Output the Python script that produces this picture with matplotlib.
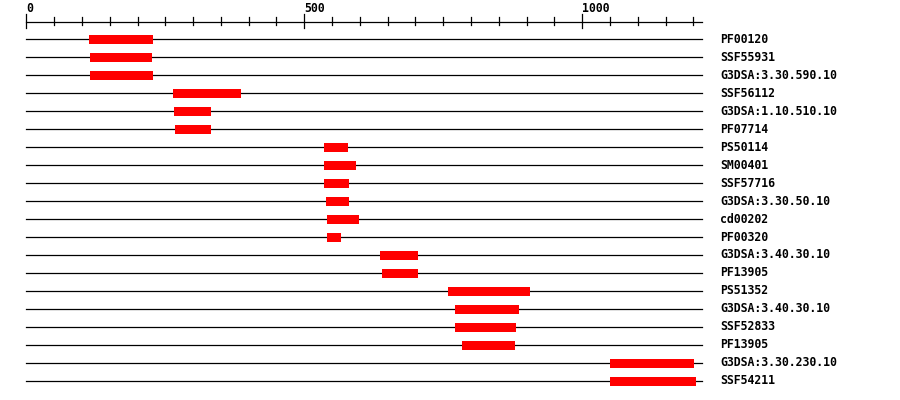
import matplotlib
matplotlib.use("Agg")
import matplotlib.pyplot as plt
import numpy as np

seq_len = 1215

labels = ["PF00120", "SSF55931", "G3DSA:3.30.590.10", "SSF56112",
          "G3DSA:1.10.510.10", "PF07714", "PS50114", "SM00401", "SSF57716",
          "G3DSA:3.30.50.10", "cd00202", "PF00320", "G3DSA:3.40.30.10",
          "PF13905", "PS51352", "G3DSA:3.40.30.10", "SSF52833", "PF13905",
          "G3DSA:3.30.230.10", "SSF54211"]
starts = [113, 115, 115, 264, 266, 268, 535, 535, 535, 539, 541, 541,
          636, 640, 759, 771, 771, 784, 1050, 1050]
ends = [227, 226, 227, 386, 332, 332, 579, 593, 580, 580, 598, 566,
        705, 705, 906, 886, 881, 879, 1201, 1204]

major_ticks = [0, 500, 1000]
minor_ticks = list(range(0, 1201, 50))

# pixel mapping: x_px = 26.3 + 0.556 * pos, y_px = 39 + 18 * row
sx = 0.556
x0 = 26.3
fig = plt.figure(figsize=(9, 4), dpi=100)
ax = fig.add_axes([0, 0, 1, 1])
ax.set_xlim(-x0 / sx, (900 - x0) / sx)
ax.set_ylim((400 - 39) / 18, -39 / 18)
ax.axis("off")

font = dict(family="DejaVu Sans Mono", weight="bold", size=8.3)

# ruler
ruler_y = (21.7 - 39) / 18
ax.plot([0, seq_len], [ruler_y, ruler_y], color="black", lw=0.9)
for t in minor_ticks:
    if t in major_ticks:
        ax.plot([t, t], [(14 - 39) / 18, (28 - 39) / 18], color="black", lw=0.9)
    else:
        ax.plot([t, t], [(17 - 39) / 18, (25 - 39) / 18], color="black", lw=0.9)
for t in major_ticks:
    ax.text(t, (2 - 39) / 18, str(t), ha="left", va="top", **font)

rows = np.arange(len(labels))
for i in rows:
    ax.plot([0, seq_len], [i, i], color="black", lw=0.9, zorder=1)
ax.barh(rows, np.array(ends) - np.array(starts), left=starts, height=0.5,
        color="#ff0000", zorder=2)
for i, lab in zip(rows, labels):
    ax.text(seq_len + 33, i, lab, ha="left", va="center", **font)

fig.savefig("out.png", dpi=100)
